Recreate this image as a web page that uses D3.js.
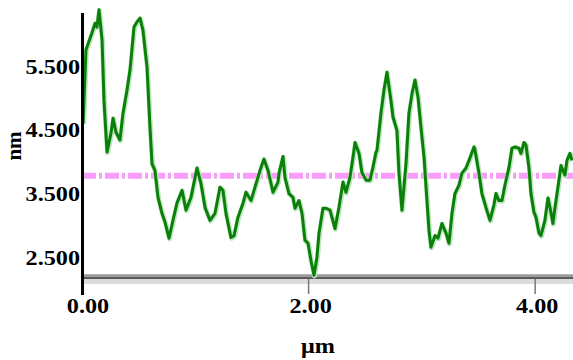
<!DOCTYPE html>
<html>
<head>
<meta charset="utf-8">
<script src="https://cdn.jsdelivr.net/npm/d3@7"></script>
<style>
  body { margin: 0; background: #fff; }
  svg { display: block; }
  text { font-family: 'Liberation Serif', 'Times New Roman', serif; font-weight: bold; fill: #000; }
</style>
</head>
<body>
<div id="chart"></div>
<script>
// profile: distance (µm) and height (nm)
const profileX = [0.01, 0.035, 0.088, 0.115, 0.132, 0.150, 0.177, 0.194, 0.221, 0.256, 0.274, 0.300, 0.335, 0.362, 0.397,
  0.424, 0.459, 0.485, 0.512, 0.538, 0.574, 0.600, 0.618, 0.644, 0.671, 0.706, 0.733, 0.768, 0.803, 0.838,
  0.883, 0.918, 0.962, 1.015, 1.050, 1.086, 1.130, 1.174, 1.218, 1.244, 1.271, 1.315, 1.342, 1.377, 1.421,
  1.447, 1.492, 1.527, 1.571, 1.606, 1.642, 1.686, 1.730, 1.739, 1.774, 1.792, 1.827, 1.862, 1.880, 1.915,
  1.942, 1.968, 1.995, 2.021, 2.048, 2.074, 2.092, 2.127, 2.154, 2.189, 2.233, 2.268, 2.304, 2.330, 2.365,
  2.392, 2.410, 2.445, 2.471, 2.507, 2.542, 2.568, 2.595, 2.604, 2.639, 2.665, 2.692, 2.727, 2.745, 2.780,
  2.798, 2.824, 2.860, 2.886, 2.913, 2.939, 2.966, 2.992, 3.019, 3.045, 3.063, 3.080, 3.116, 3.142, 3.177,
  3.213, 3.239, 3.266, 3.292, 3.327, 3.354, 3.389, 3.416, 3.460, 3.469, 3.504, 3.530, 3.566, 3.601, 3.636,
  3.654, 3.680, 3.707, 3.733, 3.769, 3.795, 3.822, 3.857, 3.875, 3.901, 3.919, 3.945, 3.963, 3.989, 4.007,
  4.034, 4.051, 4.086, 4.113, 4.131, 4.157, 4.175, 4.201, 4.228, 4.263, 4.281, 4.307, 4.325];
const profileY = [4.60, 5.75, 6.02, 6.17, 6.11, 6.38, 5.91, 4.96, 4.15, 4.45, 4.68, 4.46, 4.34, 4.76, 5.12,
  5.44, 6.11, 6.19, 6.25, 6.06, 5.48, 4.54, 3.97, 3.86, 3.44, 3.19, 3.05, 2.80, 3.08, 3.35,
  3.55, 3.24, 3.44, 3.90, 3.66, 3.28, 3.08, 3.19, 3.60, 3.55, 3.19, 2.81, 2.84, 3.13, 3.35,
  3.52, 3.39, 3.60, 3.86, 4.04, 3.86, 3.52, 3.68, 3.82, 4.08, 3.75, 3.50, 3.44, 3.27, 3.39,
  3.19, 2.77, 2.72, 2.45, 2.22, 2.50, 2.88, 3.27, 3.27, 3.24, 2.95, 3.28, 3.68, 3.52, 3.75,
  4.07, 4.30, 4.13, 3.83, 3.71, 3.71, 3.91, 4.15, 4.18, 4.76, 5.12, 5.40, 4.96, 4.70, 4.49,
  3.82, 3.24, 3.97, 4.76, 5.07, 5.28, 5.01, 4.54, 4.07, 3.39, 2.92, 2.66, 2.84, 2.80, 3.03,
  2.88, 2.72, 3.19, 3.50, 3.63, 3.82, 3.90, 4.02, 4.23, 4.18, 3.82, 3.50, 3.28, 3.08, 3.32,
  3.50, 3.39, 3.39, 3.63, 3.91, 4.21, 4.23, 4.21, 4.13, 4.30, 4.26, 3.91, 3.50, 3.21, 3.13,
  2.88, 2.84, 3.08, 3.43, 3.28, 3.03, 3.28, 3.60, 3.94, 3.79, 4.02, 4.13, 4.02];
const yTicks = [2.5, 3.5, 4.5, 5.5];
const xTicks = [0, 2, 4];
const refLevel = 3.78;   // pink reference line
const baseLevel = 2.2;   // grey base line

const W = 573, H = 360;
const svg = d3.select('#chart').append('svg').attr('width', W).attr('height', H);

const x = d3.scaleLinear().domain([0, 4.334]).range([82, 573]);
const y = d3.scaleLinear().domain([2.2, 6.33]).range([276.5, 13]);
const sx = 1.1; // labels in the picture are stretched sideways

// grey base line with its light shadow
svg.append('rect').attr('x', x(0)).attr('y', y(baseLevel) + 2.5).attr('width', W - x(0)).attr('height', 5).style('fill', '#dcdcdc');
svg.append('line').attr('x1', x(0)).attr('x2', W).attr('y1', y(baseLevel) - 1.2).attr('y2', y(baseLevel) - 1.2)
  .style('stroke', '#9a9a9a').style('stroke-width', 2);
svg.append('line').attr('x1', x(0)).attr('x2', W).attr('y1', y(baseLevel) + 1.2).attr('y2', y(baseLevel) + 1.2)
  .style('stroke', '#5a5a5a').style('stroke-width', 2.6);

// x ticks
svg.selectAll('.xtick').data(xTicks.slice(1)).enter().append('line').attr('class', 'xtick')
  .attr('x1', d => x(d)).attr('x2', d => x(d)).attr('y1', y(baseLevel) + 2.5).attr('y2', 294)
  .style('stroke', '#777').style('stroke-width', 1.5);

// pink dash-dot reference line
svg.append('line').attr('x1', x(0)).attr('x2', W).attr('y1', y(refLevel)).attr('y2', y(refLevel))
  .style('stroke', '#fa9cfa').style('stroke-width', 6).style('stroke-dasharray', '14,3,3,3');

// green profile with pale halo
const pts = profileX.map((d, i) => [d, profileY[i]]);
const line = d3.line().x(d => x(d[0])).y(d => y(d[1]));
svg.append('path').datum(pts).attr('d', line).attr('transform', 'translate(0.5,0.7)')
  .style('fill', 'none').style('stroke', '#bfe6bf').style('stroke-width', 5).style('stroke-linejoin', 'round');
svg.append('path').datum(pts).attr('d', line)
  .style('fill', 'none').style('stroke', '#0a800a').style('stroke-width', 3).style('stroke-linejoin', 'round');

// y axis
svg.append('line').attr('x1', 82.5).attr('x2', 82.5).attr('y1', 13).attr('y2', 295)
  .style('stroke', '#000').style('stroke-width', 3);

// tick labels
svg.selectAll('.ylab').data(yTicks).enter().append('text').attr('class', 'ylab')
  .attr('transform', d => `translate(80,${y(d)}) scale(${sx},1)`)
  .attr('dy', '0.35em').style('text-anchor', 'end').style('font-size', '22px')
  .text(d => d3.format('.3f')(d));
svg.selectAll('.xlab').data(xTicks).enter().append('text').attr('class', 'xlab')
  .attr('transform', d => `translate(${x(d) + (d === 0 ? 6 : 2)},305) scale(${sx},1)`)
  .attr('dy', '0.35em').style('text-anchor', 'middle').style('font-size', '22px')
  .text(d => d3.format('.2f')(d));

// axis titles
svg.append('text').attr('transform', `translate(318,353) scale(${sx},1)`)
  .style('text-anchor', 'middle').style('font-size', '22px').text('μm');
svg.append('text').attr('transform', 'translate(21,146) rotate(-90)')
  .style('text-anchor', 'middle').style('font-size', '21px').text('nm');
</script>
</body>
</html>
